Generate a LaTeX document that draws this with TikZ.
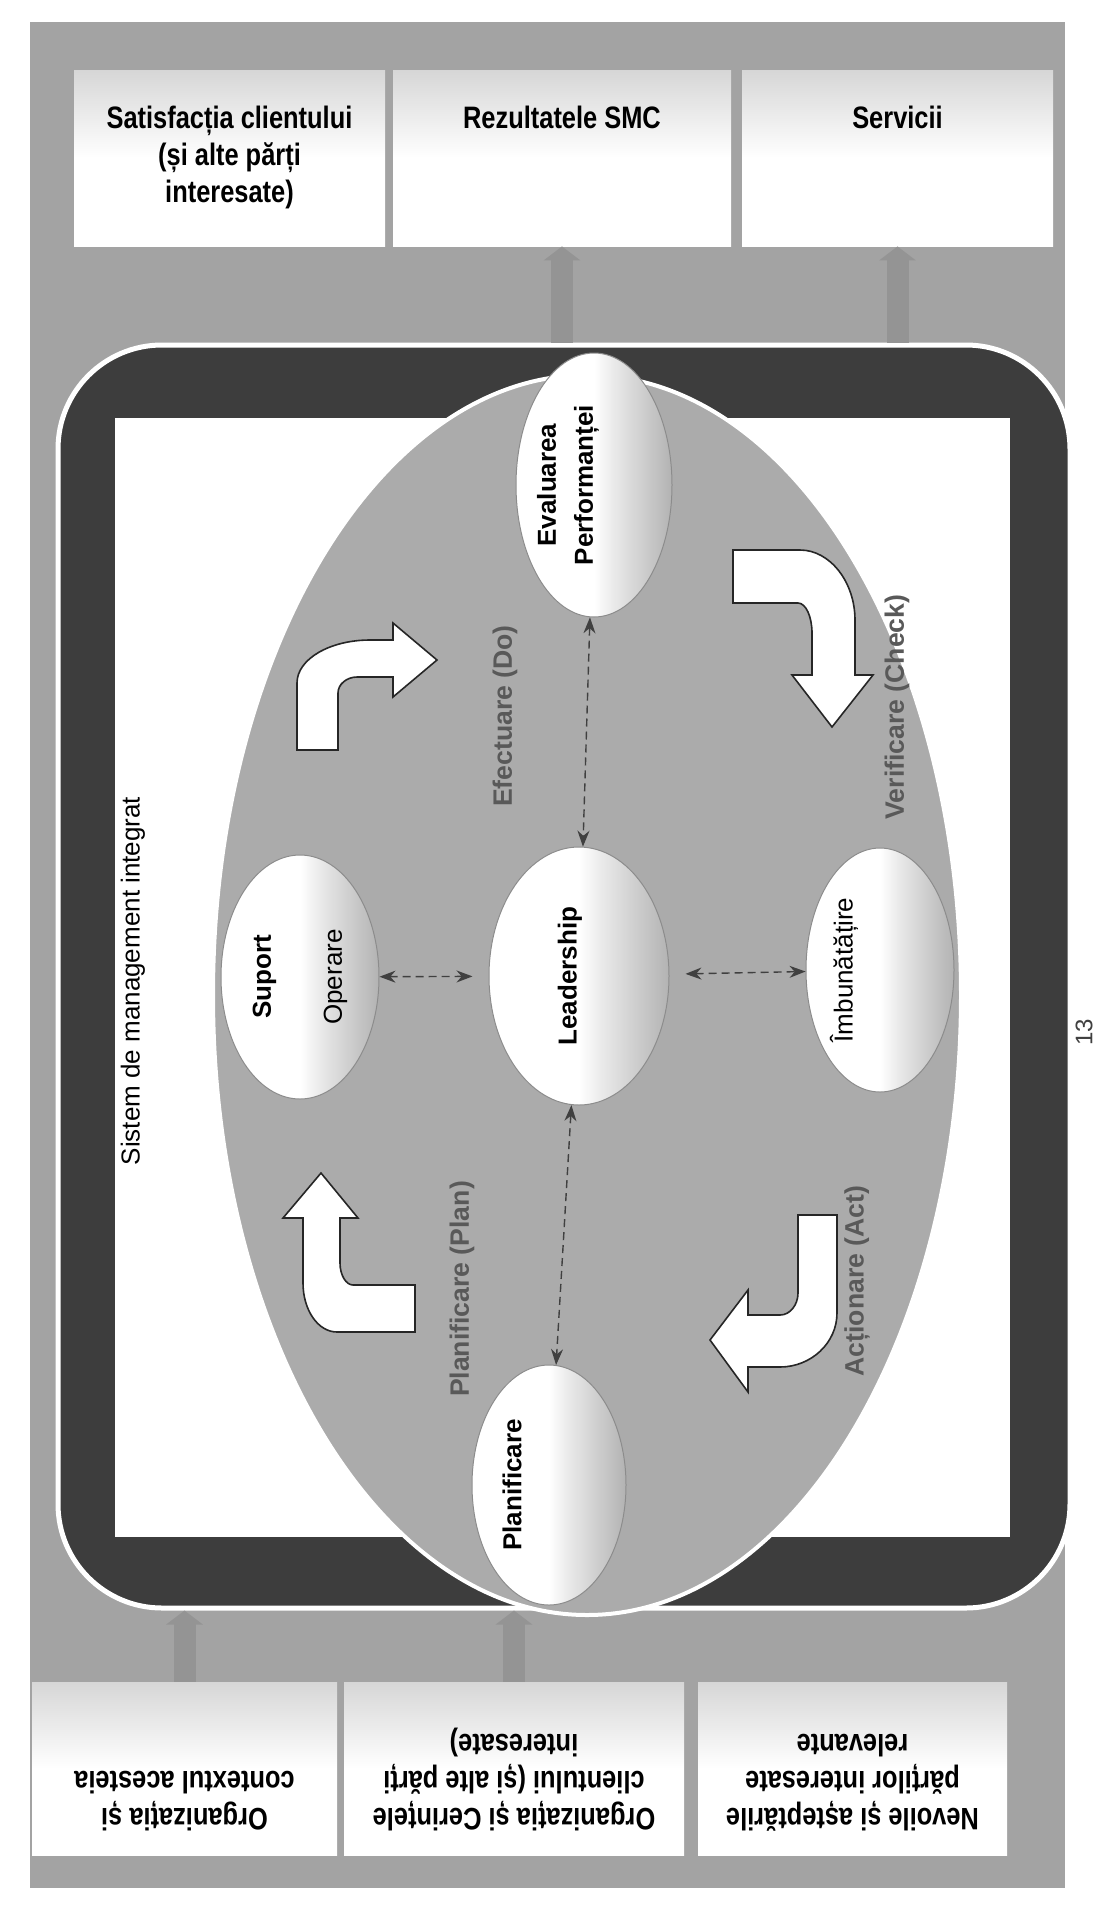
\documentclass[tikz,border=0pt]{standalone}
\usepackage{fontspec}
\setmainfont{Liberation Sans}
\newfontfamily\narrowfont[FakeStretch=0.82]{Liberation Sans}
\usetikzlibrary{positioning,shapes.geometric,arrows.meta}

\pgfdeclarehorizontalshading{blobshade}{100bp}{color(0bp)=(white); color(25bp)=(white); color(50bp)=(white); color(56bp)=(black!8); color(75bp)=(black!30); color(100bp)=(black!30)}
\pgfdeclareverticalshading{boxshade}{100bp}{color(0bp)=(white); color(25bp)=(white); color(50bp)=(white); color(75bp)=(black!16); color(100bp)=(black!16)}

\begin{document}
\begin{tikzpicture}[x=0.5pt, y=-0.5pt,
  card/.style={rectangle, shading=boxshade, inner sep=0pt, minimum height=88pt, minimum width=#1},
  cardtext/.style={font=\narrowfont\bfseries\fontsize{15.5}{18.5}\selectfont, align=center, inner sep=0pt},
  blob/.style={ellipse, shading=blobshade, draw=black!45, line width=0.5pt, inner sep=0pt},
  blobtext/.style={rotate=90, align=center, inner sep=0pt, font=\bfseries\fontsize{13}{18.5}\selectfont},
  phase/.style={rotate=90, inner sep=0pt, text=black!65, font=\bfseries\fontsize{13.3}{16}\selectfont},
  turn/.style={fill=white, draw=black!85, line width=0.8pt},
  link/.style={black!75, line width=0.7pt, dash pattern=on 4pt off 2.5pt, {Stealth[length=8pt,width=6pt]}-{Stealth[length=8pt,width=6pt]}},
  feed/.style={black!42, line width=11pt, -{Triangle[length=7pt,width=18pt]}}]
\useasboundingbox (0,0) rectangle (1100,1907);
\fill[white] (0,0) rectangle (1100,1907);
\fill[black!36] (30,22) rectangle (1065,1888);

% iesiri
\node[card=155.5pt] (sat) at (229.5,158) {};
\node[card=169pt] (res) at (562,158) {};
\node[card=155.5pt] (srv) at (897.5,158) {};
\node[cardtext, below=18pt of sat.north] (sat-t) {Satisfacția clientului\\(și alte părți\\interesate)};
\node[cardtext, below=18pt of res.north] (res-t) {Rezultatele SMC};
\node[cardtext, below=18pt of srv.north] (srv-t) {Servicii};

% intrari (rasturnate)
\node[card=152.5pt, minimum height=86.5pt] (ctx) at (184.5,1768.5) {};
\node[card=170pt, minimum height=86.5pt] (req) at (514,1768.5) {};
\node[card=154.5pt, minimum height=86.5pt] (need) at (852.5,1768.5) {};
\node[cardtext, rotate=180, anchor=north] (ctx-t) at ([yshift=12pt]ctx.south) {Organizația și\\contextul acesteia};
\node[cardtext, rotate=180, anchor=north] (req-t) at ([yshift=12pt]req.south) {Organizația și Cerințele\\clientului (și alte părți\\interesate)};
\node[cardtext, rotate=180, anchor=north] (need-t) at ([yshift=12pt]need.south) {Nevoile și așteptările\\părților interesate\\relevante};

% cadrul sistemului
\node[rectangle, fill=black!76, draw=white, line width=2.5pt, rounded corners=52pt, minimum width=506pt, minimum height=631.5pt, inner sep=0pt] (sys) at (564,976.5) {};
\fill[white] (115,418) rectangle (1010,1537);

\draw[feed] (sys.north -| res.south) -- (res.south);
\draw[feed] (sys.north -| srv.south) -- (srv.south);
\draw[feed] (ctx.north) -- (ctx.north |- sys.south);
\draw[feed] (req.north) -- (req.north |- sys.south);

\node[ellipse, fill=black!33, draw=white, line width=2pt, minimum width=374pt, minimum height=620pt, inner sep=0pt] (cyc) at (587,995) {};
\node[rotate=90, inner sep=0pt, font=\fontsize{13}{16}\selectfont] (sysl) at (133,981) {Sistem de management integrat};

% elementele ciclului
\node[blob, minimum width=78pt, minimum height=132pt] (ev) at (594,485) {};
\node[blob, minimum width=90pt, minimum height=129pt] (ld) at (579,976) {};
\node[blob, minimum width=79pt, minimum height=122pt] (sup) at (300,977) {};
\node[blob, minimum width=74pt, minimum height=122pt] (imb) at (880,970) {};
\node[blob, minimum width=77pt, minimum height=120pt] (pl) at (549,1485) {};

\node[blobtext] (ev-t) at ([xshift=-13pt]ev.center) {Evaluarea\\Performanței};
\node[blobtext] (ld-t) at ([xshift=-4.5pt]ld.center) {Leadership};
\node[blobtext] (sup-t) at (sup.center) {Suport\\[17pt]\mdseries Operare};
\node[blobtext] (imb-t) at ([xshift=-18pt]imb.center) {\mdseries Îmbunătățire};
\node[blobtext] (pl-t) at ([xshift=-18.5pt]pl.center) {Planificare};

\node[phase] (do) at (505,716) {Efectuare (Do)};
\node[phase] (chk) at (897,707) {Verificare (Check)};
\node[phase] (plan) at (462,1289) {Planificare (Plan)};
\node[phase] (act) at (857,1281) {Acționare (Act)};

% sagetile ciclului
\draw[turn] (297,750) -- (297,683) .. controls (297,659) and (330,640) .. (370,640) -- (393,640) -- (393,623)
  -- (437,660) -- (393,697) -- (393,677) -- (357,677) .. controls (347,677) and (338,684) .. (338,693) -- (338,750) -- cycle;
\draw[turn] (733,550) -- (800,550) .. controls (830,550) and (855,582) .. (855,620) -- (855,675) -- (873,675)
  -- (832,727) -- (792,675) -- (812,675) -- (812,633) .. controls (812,617) and (806,603) .. (798,603) -- (733,603) -- cycle;
\draw[turn] (798,1215) -- (837,1215) -- (837,1313) .. controls (837,1343) and (811,1367) .. (780,1367) -- (748,1367) -- (748,1392)
  -- (710,1340) -- (748,1290) -- (748,1315) -- (780,1315) .. controls (790,1315) and (798,1305) .. (798,1293) -- cycle;
\draw[turn] (415,1285) -- (415,1332) -- (337,1332) .. controls (318,1332) and (303,1310) .. (303,1283) -- (303,1218) -- (283,1218)
  -- (321,1173) -- (358,1218) -- (340,1218) -- (340,1263) .. controls (340,1275) and (346,1285) .. (353,1285) -- cycle;

\draw[link] (ev) -- (ld);
\draw[link] (ld) -- (pl);
\draw[link, shorten >=8pt] (sup) -- (ld);
\draw[link, shorten <=8pt] (ld) -- (imb);

\node[rotate=90, inner sep=0pt, text=black!75, font=\fontsize{12}{14}\selectfont] (pg) at (1084,1032) {13};
\end{tikzpicture}
\end{document}
